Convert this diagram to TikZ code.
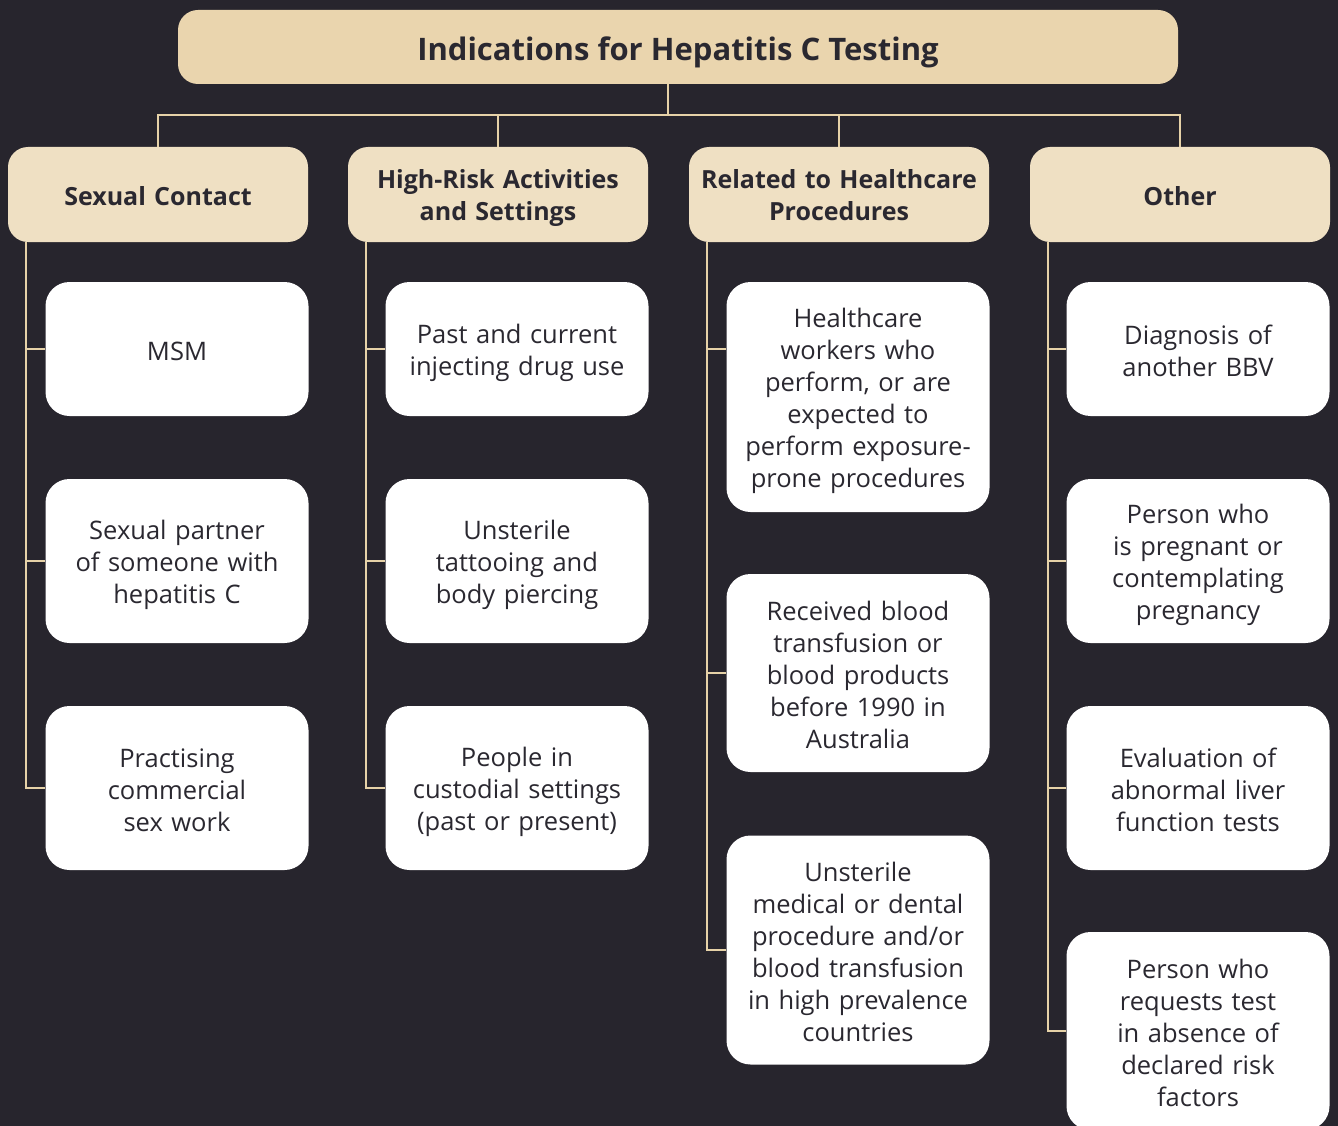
\documentclass[tikz,border=0pt]{standalone}
\usepackage{fontspec}
\setmainfont{Open Sans}
\usetikzlibrary{calc}

\definecolor{bgcolor}{HTML}{27252D}
\definecolor{titlecolor}{HTML}{EAD5AE}
\definecolor{catcolor}{HTML}{EFE0C3}
\definecolor{linecolor}{HTML}{E6D2A8}
\definecolor{inkcolor}{HTML}{2A2830}

\tikzset{
  titlebox/.style={fill=titlecolor, rounded corners=20pt, minimum width=1000pt,
    minimum height=74pt, text=inkcolor, font=\fontsize{31}{36}\selectfont\bfseries,
    execute at begin node={\rule{0pt}{34pt}},
    execute at end node={\rule[-6pt]{0pt}{6pt}}},
  catbox/.style={fill=catcolor, rounded corners=20pt, minimum width=300pt,
    minimum height=95pt, text width=282pt, align=center, text=inkcolor,
    font=\fontsize{25}{32}\selectfont\bfseries,
    execute at begin node={\rule{0pt}{27pt}},
    execute at end node={\rule[-6pt]{0pt}{6pt}}},
  leafbox/.style={fill=white, rounded corners=24pt, minimum width=263pt,
    text width=246pt, align=center, text=inkcolor,
    font=\fontsize{25.5}{32}\selectfont,
    execute at begin node={\rule{0pt}{28pt}},
    execute at end node={\rule[-6pt]{0pt}{6pt}}},
  wire/.style={draw=linecolor, line width=2.5pt},
}

\begin{document}
\begin{tikzpicture}[x=1pt,y=-1pt]
\fill[bgcolor] (0,0) rectangle (1338,1126);
\useasboundingbox (0,0) rectangle (1338,1126);

% title and categories
\node[titlebox] (title) at (678,47) {Indications for Hepatitis C Testing};
\node[catbox] (sex) at (158,194.5) {Sexual Contact};
\node[catbox] (risk) at (498,194.5) {High-Risk Activities\\and Settings};
\node[catbox] (care) at (839,194.5) {Related to Healthcare\\Procedures};
\node[catbox] (other) at (1180,194.5) {Other};

% sexual contact
\node[leafbox, minimum height=134pt] (msm) at (177,349) {MSM};
\node[leafbox, minimum height=164pt] (partner) at (177,561) {Sexual partner\\of someone with\\hepatitis C};
\node[leafbox, minimum height=164pt] (sexwork) at (177,788) {Practising\\commercial\\sex work};

% high-risk activities
\node[leafbox, minimum height=134pt] (drugs) at (517,349) {Past and current\\injecting drug use};
\node[leafbox, minimum height=164pt] (tattoo) at (517,561) {Unsterile\\tattooing and\\body piercing};
\node[leafbox, minimum height=164pt] (custody) at (517,788) {People in\\custodial settings\\(past or present)};

% healthcare procedures
\node[leafbox, minimum height=230pt] (workers) at (858,397) {Healthcare\\workers who\\perform, or are\\expected to\\perform exposure-\\prone procedures};
\node[leafbox, minimum height=198pt] (blood) at (858,673) {Received blood\\transfusion or\\blood products\\before 1990 in\\Australia};
\node[leafbox, minimum height=229pt] (abroad) at (858,950) {Unsterile\\medical or dental\\procedure and/or\\blood transfusion\\in high prevalence\\countries};

% other
\node[leafbox, minimum height=134pt] (bbv) at (1198,349) {Diagnosis of\\another BBV};
\node[leafbox, minimum height=164pt] (pregnant) at (1198,561) {Person who\\is pregnant or\\contemplating\\pregnancy};
\node[leafbox, minimum height=164pt] (liver) at (1198,788) {Evaluation of\\abnormal liver\\function tests};
\node[leafbox, minimum height=198pt] (request) at (1198,1031) {Person who\\requests test\\in absence of\\declared risk\\factors};

% connectors
\coordinate (hub) at (668,115);
\draw[wire] (title.south -| hub) -- (hub);
\draw[wire] (sex.north) |- (hub) -| (other.north);
\draw[wire] (risk.north) -- (risk.north |- hub);
\draw[wire] (care.north) -- (care.north |- hub);

\coordinate (sexspine) at ($(sex.south west)+(18,0)$);
\coordinate (riskspine) at ($(risk.south west)+(18,0)$);
\coordinate (carespine) at ($(care.south west)+(18,0)$);
\coordinate (otherspine) at ($(other.south west)+(18,0)$);

\draw[wire] (sexspine) |- (sexwork.west);
\draw[wire] (sexspine |- msm.west) -- (msm.west);
\draw[wire] (sexspine |- partner.west) -- (partner.west);

\draw[wire] (riskspine) |- (custody.west);
\draw[wire] (riskspine |- drugs.west) -- (drugs.west);
\draw[wire] (riskspine |- tattoo.west) -- (tattoo.west);

\draw[wire] (carespine) |- (abroad.west);
\draw[wire] (carespine |- msm.west) -- (workers.west |- msm.west);
\draw[wire] (carespine |- blood.west) -- (blood.west);

\draw[wire] (otherspine) |- (request.west);
\draw[wire] (otherspine |- bbv.west) -- (bbv.west);
\draw[wire] (otherspine |- pregnant.west) -- (pregnant.west);
\draw[wire] (otherspine |- liver.west) -- (liver.west);
\end{tikzpicture}
\end{document}
